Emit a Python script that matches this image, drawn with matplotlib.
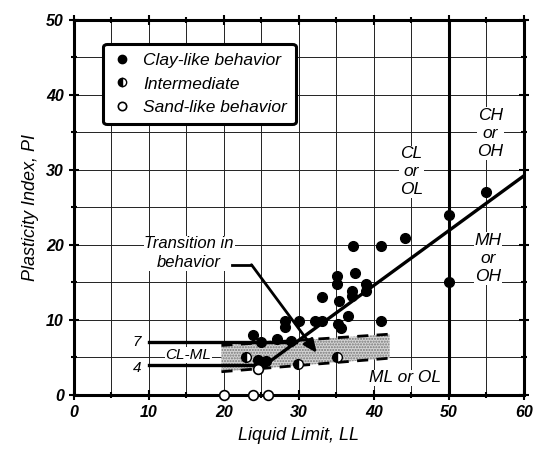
import matplotlib
matplotlib.use("Agg")
import matplotlib.pyplot as plt
from matplotlib.lines import Line2D
from matplotlib.ticker import MultipleLocator

plt.rcParams['font.family'] = ['Liberation Sans', 'DejaVu Sans']

# ---- data ----
clay_ll = [23.9, 25.0, 27.1, 29.0, 24.6, 25.6,
           28.2, 28.2, 30.0, 32.1, 33.1, 35.2, 35.6, 41.0,
           33.1, 35.3, 36.6, 35.1, 35.1, 37.5, 37.1, 37.1, 39.0, 39.0,
           37.2, 41.0, 44.1, 50.0, 55.0, 50.0]
clay_pi = [8.0, 7.1, 7.5, 7.2, 4.7, 4.5,
           9.9, 9.0, 9.9, 9.9, 9.9, 9.4, 8.9, 9.9,
           13.0, 12.5, 10.5, 15.9, 14.8, 16.2, 13.9, 13.2, 14.8, 13.9,
           19.9, 19.9, 20.9, 24.0, 27.0, 15.0]
inter_ll = [23.0, 29.9, 35.1]
inter_pi = [5.0, 4.1, 5.1]
sand_ll = [24.6, 20.0, 23.9, 25.9]
sand_pi = [3.5, 0.0, 0.0, 0.0]

# A-line PI = 0.73 (LL - 20), from PI = 4 up to LL = 60
aline_ll = [25.5, 60.0]
aline_pi = [4.0, 29.2]
# CL-ML horizontal limits
pi7_ll = [10.0, 29.6]
pi4_ll = [10.0, 25.5]
# shaded transition band
band_ll = [19.7, 42.1]
band_top = [6.6, 8.1]
band_bot = [3.1, 4.9]

fig = plt.figure(figsize=(5.36, 4.5), dpi=100)
ax = fig.add_axes([73.5/536, 55/450, 450.5/536, 375.5/450])
ax.set_xlim(0, 60)
ax.set_ylim(0, 50)

ax.xaxis.set_major_locator(MultipleLocator(10))
ax.xaxis.set_minor_locator(MultipleLocator(5))
ax.yaxis.set_major_locator(MultipleLocator(10))
ax.yaxis.set_minor_locator(MultipleLocator(5))
ax.grid(True, which='both', color='#222222', linewidth=0.7, zorder=0)
ax.set_axisbelow(True)
ax.tick_params(which='both', direction='inout', top=True, right=True,
               width=1.5, colors='black')
ax.tick_params(which='major', length=7)
ax.tick_params(which='minor', length=5)
for lab in ax.get_xticklabels() + ax.get_yticklabels():
    lab.set_fontstyle('italic')
    lab.set_fontweight('bold')
    lab.set_fontsize(11.5)
for s in ax.spines.values():
    s.set_linewidth(2.2)

ax.set_xlabel('Liquid Limit, LL', fontsize=13, style='italic', labelpad=5)
ax.set_ylabel('Plasticity Index, PI', fontsize=13, style='italic', labelpad=5)

# shaded band
ax.fill_between(band_ll, band_bot, band_top, facecolor='#d4d4d4',
                edgecolor='#777777', hatch='......', linewidth=0, zorder=1)
ax.plot(band_ll, band_bot, color='black', lw=2, ls=(0, (4, 3)), zorder=2)
ax.plot(band_ll, band_top, color='black', lw=2, ls=(0, (4, 3)), zorder=2)

# LL = 50 line
ax.axvline(50, color='black', lw=2.2, zorder=2)
# A-line and CL-ML limits
ax.plot(aline_ll, aline_pi, color='black', lw=2.4, zorder=3)
ax.plot(pi7_ll, [7, 7], color='black', lw=2.4, zorder=3)
ax.plot(pi4_ll, [4, 4], color='black', lw=2.4, zorder=3)

ms = 7
ax.plot(clay_ll, clay_pi, 'o', color='black', ms=ms, zorder=5)
ax.plot(inter_ll, inter_pi, 'o', ms=ms, markerfacecolor='black',
        markerfacecoloralt='white', fillstyle='left', markeredgecolor='black',
        markeredgewidth=1, zorder=5)
ax.plot(sand_ll, sand_pi, 'o', ms=ms, markerfacecolor='white',
        markeredgecolor='black', markeredgewidth=1.2, zorder=6, clip_on=False)

bb = dict(facecolor='white', edgecolor='none', pad=0.5)
tkw = dict(fontsize=12.5, style='italic', ha='center', va='center',
           linespacing=1.25, zorder=4)
ax.text(45.0, 29.7, 'CL\nor\nOL', bbox=bb, **tkw)
ax.text(55.5, 34.8, 'CH\nor\nOH', bbox=bb, **tkw)
ax.text(55.2, 18.2, 'MH\nor\nOH', bbox=bb, **tkw)
ax.text(44.1, 2.3, 'ML or OL', bbox=bb, **tkw)
ax.text(15.3, 5.3, 'CL-ML', bbox=bb, fontsize=11, style='italic',
        ha='center', va='center', zorder=4)
ax.text(9.0, 7.0, '7', fontsize=11, style='italic', ha='right', va='center')
ax.text(9.0, 3.6, '4', fontsize=11, style='italic', ha='right', va='center')

ax.text(15.4, 18.9, 'Transition in\nbehavior', bbox=bb, fontsize=12,
        style='italic', ha='center', va='center', linespacing=1.3, zorder=4)
ax.plot([21.1, 23.7], [17.35, 17.35], color='black', lw=2, zorder=4)
ax.annotate('', xy=(32.4, 5.6), xytext=(23.7, 17.35),
            arrowprops=dict(arrowstyle='-|>,head_length=0.8,head_width=0.35',
                            color='black', lw=2, shrinkA=0, shrinkB=0),
            zorder=4)

handles = [
    Line2D([], [], marker='o', ls='none', color='black', ms=6),
    Line2D([], [], marker='o', ls='none', ms=6, markerfacecolor='black',
           markerfacecoloralt='white', fillstyle='left', markeredgecolor='black'),
    Line2D([], [], marker='o', ls='none', ms=6, markerfacecolor='white',
           markeredgecolor='black', markeredgewidth=1.2),
]
leg = ax.legend(handles, ['Clay-like behavior', 'Intermediate', 'Sand-like behavior'],
                loc='upper left', bbox_to_anchor=(0.066, 0.935), borderaxespad=0,
                prop=dict(family='Liberation Sans', style='italic', size=12.5),
                frameon=True, fancybox=True, framealpha=1, edgecolor='black',
                handletextpad=0.6, handlelength=1.2, labelspacing=0.5,
                borderpad=0.5)
leg.get_frame().set_linewidth(2.2)
leg.set_zorder(7)

fig.savefig('out.png', dpi=100)
